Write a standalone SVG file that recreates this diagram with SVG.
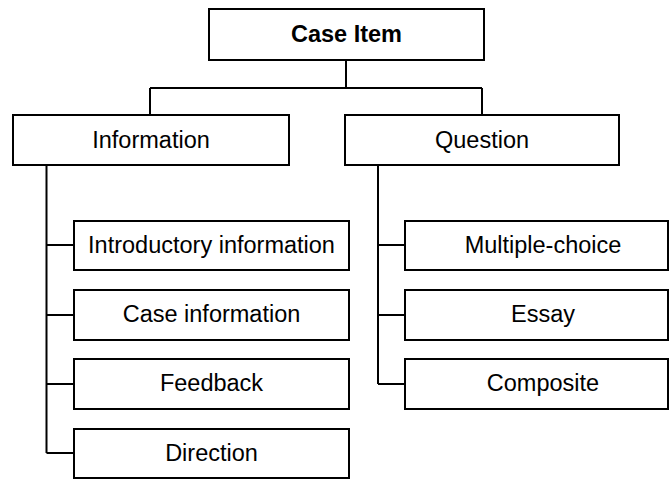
<svg xmlns="http://www.w3.org/2000/svg" width="670" height="480" viewBox="0 0 670 480">
<style>
rect{fill:#fff;stroke:#000;stroke-width:2}
text{font-family:"Liberation Sans",Arial,sans-serif;font-size:23.5px;text-anchor:middle;fill:#000}
.b{font-weight:bold}
#connectors path{fill:none;stroke:#000;stroke-width:2}
</style>
<g id="connectors">
<path d="M346 60V88M150 88H482M150 88V115M482 88V115"/>
<path d="M46.5 165V453M46.5 245H74M46.5 315H74M46.5 384H74M46.5 453H74"/>
<path d="M378 165V384M378 245H405M378 315H405M378 384H405"/>
</g>
<g id="case-item"><rect x="209" y="9" width="275" height="51"/><text class="b" x="346.5" y="42">Case Item</text></g>
<g id="information"><rect x="13" y="115" width="276" height="50"/><text x="151" y="148">Information</text></g>
<g id="question"><rect x="345" y="115" width="274" height="50"/><text x="482" y="148">Question</text></g>
<g id="introductory"><rect x="74" y="221" width="275" height="49"/><text x="211.5" y="253">Introductory information</text></g>
<g id="case-information"><rect x="74" y="290" width="275" height="50"/><text x="211.5" y="322">Case information</text></g>
<g id="feedback"><rect x="74" y="359" width="275" height="50"/><text x="211.5" y="391">Feedback</text></g>
<g id="direction"><rect x="74" y="429" width="275" height="49"/><text x="211.5" y="461">Direction</text></g>
<g id="multiple-choice"><rect x="405" y="221" width="263" height="49"/><text x="543" y="253">Multiple-choice</text></g>
<g id="essay"><rect x="405" y="290" width="263" height="50"/><text x="543" y="322">Essay</text></g>
<g id="composite"><rect x="405" y="359" width="263" height="50"/><text x="543" y="391">Composite</text></g>
</svg>
